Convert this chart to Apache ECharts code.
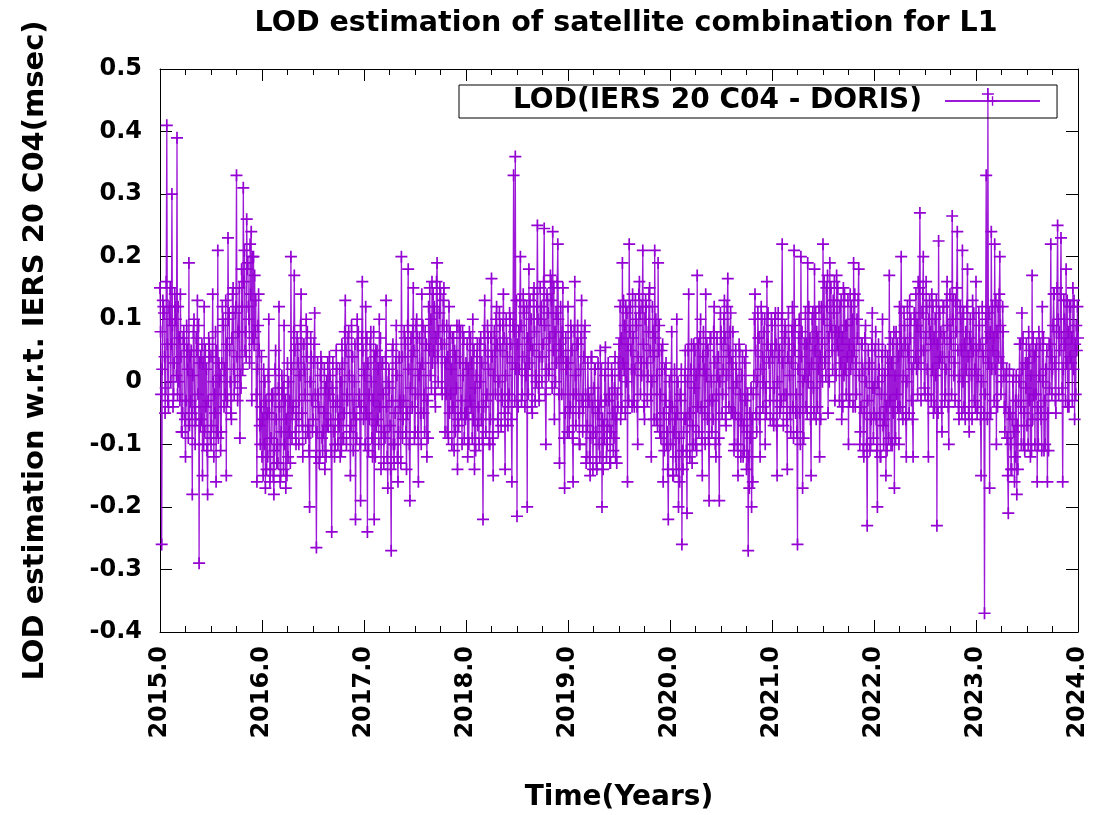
<!DOCTYPE html>
<html>
<head>
<meta charset="utf-8">
<script src="https://cdn.jsdelivr.net/npm/echarts@6/dist/echarts.min.js"></script>
<style>html,body{margin:0;padding:0;background:#fff}#c{width:1094px;height:815px}</style>
</head>
<body>
<div id="c"></div>
<script>
// LOD (IERS 20 C04 - DORIS), msec.
// Each year: 60 "spread" samples (lodYYYY) interleaved with 60 "core" (coreYYYY) and 60 "mid" (midYYYY) samples.
const startYear = 2015;
const samplesPerYear = 60;
const lod2015 = [0.15,-0.26,0.12,-0.05,0.41,-0.04,0.15,0.30,-0.02,0.12,0.39,0.0,0.14,-0.08,0.08,-0.12,0.05,0.19,-0.03,-0.18,0.10,-0.06,0.13,-0.29,0.04,-0.15,0.12,-0.04,-0.18,0.06,-0.10,0.14,-0.02,-0.16,0.21,0.0,-0.08,0.10,0.02,-0.15,0.23,0.05,-0.06,0.15,0.00,0.33,0.08,-0.09,0.18,0.31,0.05,0.26,0.12,0.22,-0.03,0.20,0.08,-0.16,0.14,-0.10];
const core2015 = [0.08,0.02,0.11,-0.01,0.06,0.12,0.00,0.09,0.03,0.10,-0.02,0.07,0.04,-0.05,0.06,-0.03,0.02,-0.07,0.05,0.01,-0.04,0.07,-0.02,0.03,-0.06,0.03,-0.08,0.02,-0.03,0.04,-0.07,0.00,-0.05,0.05,-0.09,0.01,0.03,0.09,-0.02,0.06,0.10,0.00,0.07,0.02,0.11,0.04,0.08,0.01,0.12,0.16,0.08,0.18,0.10,0.14,0.20,0.06,0.13,0.02,0.05,-0.04];
const mid2015 = [-0.02,0.13,0.04,0.16,-0.03,0.10,0.06,-0.04,0.14,0.01,0.12,-0.03,-0.08,0.07,-0.06,0.09,-0.09,0.04,-0.05,0.08,-0.10,0.05,0.09,-0.07,0.06,-0.10,0.05,-0.11,0.07,-0.09,0.04,-0.12,0.08,-0.08,0.03,-0.11,0.12,-0.04,0.13,-0.03,0.11,-0.05,0.14,-0.02,0.12,-0.03,0.15,-0.01,0.02,0.21,0.04,0.19,0.03,0.24,0.07,0.17,-0.02,0.09,-0.07,0.04];
const lod2016 = [-0.12,0.02,-0.17,-0.05,0.10,-0.14,-0.03,-0.18,0.05,-0.10,0.12,-0.15,-0.02,0.09,-0.17,0.03,-0.08,0.20,-0.05,0.17,-0.10,0.06,-0.03,0.14,-0.12,0.02,0.10,-0.08,-0.20,0.04,-0.06,0.11,-0.265,-0.02,-0.12,0.03,-0.08,-0.14,0.0,-0.07,0.01,-0.24,-0.03,-0.10,0.02,-0.06,-0.12,0.06,-0.09,0.13,-0.02,0.08,-0.15,0.04,-0.05,-0.22,0.10,-0.03,-0.19,0.16];
const core2016 = [-0.06,-0.10,-0.03,-0.12,-0.05,-0.09,-0.02,-0.11,-0.06,-0.13,-0.04,-0.08,-0.01,-0.10,-0.06,-0.12,-0.03,0.02,-0.04,0.05,-0.06,0.03,0.01,-0.05,0.06,-0.02,0.04,-0.07,0.00,-0.03,0.03,-0.02,-0.08,-0.04,0.01,-0.09,-0.05,-0.01,-0.07,-0.02,-0.06,-0.01,-0.08,-0.04,-0.03,-0.07,0.00,0.03,-0.05,0.05,-0.03,0.01,-0.07,0.04,0.00,-0.06,0.06,-0.02,-0.04,0.05];
const mid2016 = [-0.15,0.00,-0.14,0.01,-0.16,-0.02,-0.15,0.02,-0.13,-0.01,-0.16,0.01,-0.14,-0.03,-0.15,0.00,-0.13,-0.09,0.08,-0.08,0.07,-0.10,0.09,-0.07,0.06,-0.09,0.08,-0.11,0.07,-0.08,0.06,-0.12,0.03,-0.13,0.04,-0.11,0.02,-0.12,0.03,0.04,-0.11,0.03,-0.12,0.05,-0.10,0.02,-0.11,-0.09,0.08,-0.10,0.07,-0.08,0.09,-0.11,0.06,-0.09,0.08,-0.10,0.07,-0.06];
const lod2017 = [0.02,0.12,-0.24,-0.02,0.08,-0.12,-0.22,0.05,-0.06,0.10,-0.14,0.03,-0.08,0.13,-0.17,-0.01,-0.27,0.06,-0.10,0.09,-0.16,-0.03,0.20,-0.06,0.07,-0.14,0.18,-0.19,0.04,0.15,-0.08,0.10,-0.16,0.02,0.14,-0.05,0.08,-0.12,0.12,0.01,0.16,0.05,-0.04,0.19,0.08,0.14,-0.02,0.15,0.03,-0.08,0.12,-0.02,0.07,-0.11,0.04,-0.14,0.09,-0.05,0.08,-0.09];
const core2017 = [0.01,-0.05,0.03,-0.06,0.00,-0.03,0.04,-0.07,0.02,-0.04,-0.08,-0.02,-0.09,-0.04,0.00,-0.07,-0.03,-0.10,-0.05,0.01,-0.08,-0.04,0.04,-0.03,0.06,-0.05,0.02,-0.01,-0.04,0.05,-0.02,0.07,0.01,-0.05,0.03,-0.02,0.06,-0.03,0.05,0.10,0.03,0.12,0.07,0.04,0.11,0.06,0.09,0.06,-0.02,0.04,-0.05,0.02,-0.04,0.05,-0.01,-0.06,0.03,-0.03,0.01,-0.05];
const mid2017 = [-0.10,0.07,-0.11,0.06,-0.09,0.08,-0.12,0.05,-0.10,0.07,0.03,-0.13,0.04,-0.12,0.02,-0.14,0.05,-0.13,0.03,-0.12,0.04,-0.13,-0.09,0.08,-0.08,0.09,-0.10,0.07,0.08,-0.09,0.09,-0.08,0.07,-0.10,0.09,-0.08,0.06,-0.09,0.15,-0.01,0.14,-0.02,0.16,0.00,0.15,-0.01,0.13,-0.08,0.09,-0.09,0.08,-0.10,0.07,-0.08,0.09,-0.07,0.08,-0.10,0.07,-0.06];
const lod2018 = [0.03,-0.12,0.08,-0.04,0.10,-0.14,0.01,-0.07,0.06,-0.06,-0.22,0.13,-0.03,0.07,-0.10,0.165,-0.15,0.05,0.12,-0.08,0.09,-0.02,0.14,-0.14,0.06,-0.04,0.10,-0.16,0.33,0.36,-0.215,0.08,0.20,-0.02,0.12,0.02,-0.20,0.18,0.06,-0.05,0.15,0.01,0.25,-0.03,0.10,0.04,0.245,-0.10,0.13,0.02,0.16,0.24,-0.06,0.11,0.22,-0.13,0.05,0.15,-0.17,0.02];
const core2018 = [-0.05,0.02,-0.03,0.03,-0.06,-0.01,0.04,-0.04,0.00,0.03,-0.04,0.05,-0.02,0.02,-0.06,0.04,0.01,-0.02,0.06,0.00,0.05,-0.03,0.07,0.01,0.04,-0.02,0.06,0.03,0.08,0.02,0.06,0.02,0.09,0.04,0.11,0.01,0.07,0.03,0.10,0.05,0.08,0.00,0.10,0.04,0.12,0.06,0.09,0.02,0.11,0.07,0.13,0.05,0.08,0.03,0.10,0.06,-0.02,0.04,-0.05,0.03];
const mid2018 = [0.06,-0.10,0.07,-0.09,0.05,-0.11,0.06,-0.10,0.07,-0.09,0.08,-0.08,0.09,-0.10,0.07,-0.09,0.08,0.10,-0.06,0.11,-0.07,0.09,-0.05,0.10,-0.07,0.11,-0.06,0.09,-0.03,0.13,-0.04,0.13,-0.03,0.14,-0.04,0.12,-0.02,0.13,-0.04,0.14,-0.03,0.12,-0.01,0.15,0.00,0.16,-0.02,0.14,0.01,0.17,-0.01,0.15,0.00,0.16,-0.02,0.12,0.08,-0.09,0.07,-0.08];
const lod2019 = [0.12,-0.05,0.08,-0.16,0.16,-0.02,0.06,-0.10,0.13,-0.04,0.09,-0.12,-0.02,-0.15,0.04,-0.08,0.02,-0.14,-0.04,0.05,-0.20,-0.07,0.055,-0.10,-0.03,-0.13,0.01,-0.09,-0.12,-0.02,0.06,-0.06,0.19,0.02,0.12,-0.16,0.22,0.05,0.14,-0.04,0.10,-0.10,0.16,0.03,0.21,-0.06,0.12,0.01,0.15,-0.12,0.08,0.21,-0.06,0.19,-0.08,0.05,-0.16,0.02,-0.10,-0.22];
const core2019 = [0.03,-0.04,0.05,-0.02,0.01,0.06,-0.05,0.02,-0.03,0.04,-0.02,-0.07,-0.03,-0.09,-0.04,-0.01,-0.08,-0.05,-0.10,-0.03,-0.06,-0.09,-0.03,-0.07,-0.02,-0.08,-0.05,-0.01,-0.06,-0.04,0.01,0.07,0.03,0.09,0.00,0.06,0.08,0.02,0.07,0.02,0.09,0.04,0.11,0.01,0.06,0.10,0.03,0.08,0.05,0.00,0.04,0.07,0.01,0.05,-0.02,0.02,-0.05,-0.03,-0.08,-0.06];
const mid2019 = [-0.08,0.09,-0.09,0.08,-0.07,0.09,-0.10,0.07,-0.08,0.08,-0.13,0.03,-0.12,0.04,-0.14,0.02,-0.13,0.03,-0.12,0.02,-0.14,0.01,-0.12,0.03,-0.13,0.02,-0.11,0.04,-0.13,0.03,0.12,-0.04,0.13,-0.05,0.11,-0.03,0.12,-0.04,-0.03,0.13,-0.04,0.14,-0.02,0.12,-0.04,0.13,-0.03,0.14,-0.02,0.12,-0.06,0.10,-0.07,0.09,-0.09,0.06,-0.11,0.03,-0.14,0.00];
const lod2020 = [-0.04,0.08,-0.15,-0.06,0.10,-0.20,-0.02,-0.26,-0.08,0.05,-0.21,0.14,-0.05,-0.13,0.06,-0.10,0.17,-0.08,0.10,-0.15,0.02,0.14,-0.06,-0.19,0.07,-0.03,0.12,-0.12,0.01,-0.19,0.08,-0.02,0.13,-0.07,0.165,0.04,-0.05,0.08,-0.10,0.02,-0.15,0.05,-0.06,-0.12,0.03,-0.14,-0.27,-0.05,-0.20,-0.02,0.14,-0.08,0.07,-0.12,0.10,0.0,-0.10,0.16,0.04,-0.06];
const core2020 = [-0.10,-0.04,-0.08,-0.12,-0.05,-0.09,-0.03,-0.11,-0.06,-0.06,0.00,-0.05,0.02,-0.07,-0.01,0.01,-0.04,0.02,-0.04,0.04,-0.05,0.01,0.05,-0.03,0.00,-0.06,0.03,-0.02,0.04,0.00,0.06,0.02,0.07,0.01,0.05,0.08,0.03,-0.01,-0.05,0.00,-0.06,-0.02,0.01,-0.07,-0.03,-0.08,-0.12,-0.09,-0.06,0.01,0.05,0.00,0.07,0.02,0.04,0.08,-0.01,0.06,0.03,0.05];
const mid2020 = [0.01,-0.15,0.02,-0.14,0.00,-0.16,0.02,-0.14,0.01,-0.11,0.05,-0.12,0.06,-0.10,0.05,-0.11,0.06,0.07,-0.09,0.08,-0.10,0.06,-0.09,0.07,-0.08,0.08,-0.10,0.07,-0.09,0.11,-0.05,0.10,-0.06,0.12,-0.04,0.11,-0.05,-0.11,0.05,-0.10,0.06,-0.12,0.04,-0.11,0.05,-0.02,-0.17,-0.01,-0.16,0.10,-0.05,0.11,-0.06,0.12,-0.04,0.10,-0.05,0.11,-0.03,0.10];
const lod2021 = [0.09,-0.07,0.11,-0.15,0.04,-0.04,0.22,-0.02,0.08,-0.14,0.06,-0.08,0.12,0.21,-0.05,-0.26,0.10,0.20,-0.17,0.06,-0.04,0.19,0.02,-0.15,0.11,0.18,-0.06,0.07,-0.12,0.12,0.22,0.03,0.15,-0.05,0.19,0.08,0.13,-0.03,0.17,0.05,0.12,-0.06,0.15,0.02,0.09,-0.10,0.14,0.04,0.19,-0.04,0.10,0.18,-0.08,0.06,-0.12,0.09,-0.23,0.02,-0.10,0.11];
const core2021 = [0.04,-0.01,0.06,0.00,0.05,-0.03,0.03,0.07,-0.02,0.04,0.01,0.03,-0.04,0.05,-0.02,0.02,-0.05,0.04,0.00,0.01,0.06,0.00,0.07,0.03,-0.01,0.05,0.08,0.02,0.04,0.06,0.10,0.04,0.12,0.07,0.09,0.05,0.11,0.08,0.06,0.08,0.03,0.07,0.01,0.09,0.04,0.06,0.02,0.10,0.05,0.03,0.07,0.01,-0.04,0.02,-0.05,0.00,-0.03,0.03,-0.06,-0.01];
const mid2021 = [-0.06,0.10,-0.07,0.11,-0.05,0.10,-0.07,0.09,-0.06,0.11,-0.05,0.08,-0.09,0.09,-0.08,0.07,-0.10,0.08,-0.09,0.11,-0.05,0.12,-0.06,0.10,-0.05,0.11,-0.04,0.12,-0.06,0.00,0.16,0.01,0.17,0.00,0.15,0.02,0.16,0.01,0.15,-0.03,0.13,-0.04,0.14,-0.02,0.13,-0.03,0.12,-0.04,0.14,-0.02,0.13,-0.10,0.06,-0.11,0.07,-0.10,0.05,-0.11,0.06,-0.09];
const lod2022 = [-0.05,0.08,-0.20,0.02,-0.12,0.10,-0.06,-0.15,0.04,0.17,-0.10,0.06,-0.17,0.08,-0.04,0.12,0.20,-0.06,0.09,-0.12,0.05,0.13,-0.03,-0.12,0.10,0.02,0.16,0.27,0.05,0.20,-0.02,0.12,-0.12,0.08,0.14,-0.05,0.10,-0.23,0.225,0.04,-0.08,0.12,-0.02,0.16,-0.10,0.07,0.265,0.01,0.13,0.24,-0.06,0.10,0.21,-0.04,0.08,0.18,-0.08,0.06,0.13,-0.03];
const core2022 = [-0.01,-0.06,0.00,-0.05,-0.02,-0.07,0.01,-0.04,0.02,-0.03,0.03,-0.05,0.01,-0.02,0.04,-0.04,0.05,0.01,0.06,0.00,0.04,0.07,0.02,0.03,0.04,0.09,0.03,0.08,0.11,0.05,0.07,0.02,0.10,0.06,0.02,0.07,0.01,0.06,0.03,0.08,0.04,0.07,0.02,0.09,0.04,0.06,0.10,0.03,0.08,0.05,0.01,0.05,0.00,0.06,0.02,0.04,0.07,0.01,0.05,0.02];
const mid2022 = [0.05,-0.11,0.06,-0.12,0.04,-0.10,0.05,-0.11,-0.09,0.07,-0.10,0.08,-0.09,0.06,-0.10,0.07,-0.05,0.11,-0.06,0.12,-0.05,0.10,-0.06,0.11,0.14,-0.02,0.15,-0.03,0.14,-0.01,0.16,-0.02,0.13,-0.03,0.12,-0.04,0.13,-0.05,0.11,-0.04,0.12,-0.03,0.13,-0.04,0.14,-0.02,0.13,-0.03,0.15,-0.04,0.12,-0.05,0.11,-0.06,0.12,-0.05,0.10,-0.06,0.11,-0.04];
const lod2023 = [0.16,-0.04,0.09,-0.15,0.05,-0.37,0.33,0.46,-0.17,0.24,0.05,0.22,-0.10,0.12,0.20,0.0,0.08,-0.08,0.02,-0.21,-0.05,-0.14,0.01,-0.12,-0.18,-0.03,0.06,0.11,-0.10,0.03,-0.07,0.08,-0.12,0.17,-0.02,0.05,-0.16,0.08,-0.05,0.12,-0.11,0.02,-0.16,0.06,0.22,0.02,0.14,-0.05,0.25,0.08,0.23,-0.16,0.10,0.18,-0.04,0.12,0.03,0.15,-0.06,0.09];
const core2023 = [0.05,0.01,0.06,0.00,0.04,-0.02,0.07,0.03,0.08,0.02,0.07,0.02,0.08,0.04,0.09,0.03,0.01,-0.04,-0.09,-0.05,-0.10,-0.06,-0.08,-0.03,-0.07,0.00,-0.04,0.02,-0.05,-0.01,0.03,-0.03,0.01,-0.06,0.04,-0.02,-0.04,0.01,-0.06,0.00,-0.03,0.02,-0.05,-0.01,0.04,0.09,0.03,0.08,0.10,0.05,0.07,0.02,0.06,0.03,0.08,0.04,0.07,0.02,0.06,0.05];
const mid2023 = [-0.05,0.11,-0.06,0.12,-0.05,0.10,-0.06,0.11,-0.05,0.12,-0.03,0.13,-0.04,0.14,-0.02,0.12,-0.04,0.01,-0.15,0.02,-0.14,0.00,-0.16,0.01,-0.14,0.06,-0.10,0.07,-0.11,0.06,-0.10,0.05,-0.11,0.07,-0.10,0.06,-0.10,0.06,-0.11,0.07,-0.10,0.05,-0.11,0.06,-0.02,0.14,-0.03,0.15,-0.02,0.14,-0.01,0.13,-0.03,0.13,-0.04,0.12,-0.03,0.13,-0.02,0.12];
const lodEnd2024 = 0.07;
const yearTicks = [2015,2016,2017,2018,2019,2020,2021,2022,2023,2024];
const yTickLabels = ['-0.4','-0.3','-0.2','-0.1','0','0.1','0.2','0.3','0.4','0.5'];

const spread = [lod2015,lod2016,lod2017,lod2018,lod2019,lod2020,lod2021,lod2022,lod2023];
const core = [core2015,core2016,core2017,core2018,core2019,core2020,core2021,core2022,core2023];
const mid = [mid2015,mid2016,mid2017,mid2018,mid2019,mid2020,mid2021,mid2022,mid2023];
const points = [];
spread.forEach((arr, k) => {
  arr.forEach((v, i) => {
    points.push([startYear + k + i / samplesPerYear, v]);
    points.push([startYear + k + (i + 1 / 3) / samplesPerYear, core[k][i]]);
    points.push([startYear + k + (i + 2 / 3) / samplesPerYear, mid[k][i]]);
  });
});
points.push([2024, lodEnd2024]);

const FONT = 'DejaVu Sans';
const plus = 'path://M4.3,0H5.7V4.3H10V5.7H5.7V10H4.3V5.7H0V4.3H4.3Z';
const purple = '#9400d3';

const axisCommonX = {
  type: 'value', min: 2015, max: 2024, interval: 1,
  splitLine: {show: false},
  axisLine: {show: true, onZero: false, lineStyle: {color: '#000', width: 1}},
  axisTick: {show: true, inside: true, length: 12, lineStyle: {color: '#000'}},
  minorTick: {show: true, splitNumber: 4, length: 6, lineStyle: {color: '#000'}},
};
const axisCommonY = {
  type: 'value', min: -0.4, max: 0.5, interval: 0.1,
  splitLine: {show: false},
  axisLine: {show: true, onZero: false, lineStyle: {color: '#000', width: 1}},
  axisTick: {show: true, inside: true, length: 12, lineStyle: {color: '#000'}},
};

const chart = echarts.init(document.getElementById('c'), null, {renderer: 'canvas'});
chart.setOption({
  animation: false,
  backgroundColor: '#fff',
  title: {
    text: 'LOD estimation of satellite combination for L1',
    left: 621, top: 4, textAlign: 'center',
    textStyle: {fontFamily: FONT, fontWeight: 'bold', fontSize: 28.5, color: '#000'}
  },
  legend: {
    left: 459, top: 85,
    align: 'right',
    itemWidth: 95, itemHeight: 12,
    padding: [2, 16, 3, 54],
    borderColor: '#000', borderWidth: 1,
    textStyle: {fontFamily: FONT, fontWeight: 'bold', fontSize: 28, color: '#000', padding: [0, 18, 0, 0]},
    data: ['LOD(IERS 20 C04 - DORIS)']
  },
  grid: {left: 160, right: 16, top: 69, bottom: 183, containLabel: false, outerBoundsMode: 'none'},
  xAxis: [
    Object.assign({}, axisCommonX, {
      position: 'bottom',
      name: 'Time(Years)', nameLocation: 'middle', nameGap: 152,
      nameTextStyle: {fontFamily: FONT, fontWeight: 'bold', fontSize: 28, color: '#000'},
      axisLabel: {
        show: true, rotate: 90, margin: 14,
        fontFamily: FONT, fontWeight: 'bold', fontSize: 24, color: '#000',
        formatter: v => { const t = yearTicks.indexOf(Math.round(v)); return t >= 0 ? yearTicks[t].toFixed(1) : ''; }
      }
    }),
    Object.assign({}, axisCommonX, {position: 'top', axisLabel: {show: false}})
  ],
  yAxis: [
    Object.assign({}, axisCommonY, {
      position: 'left',
      name: 'LOD estimation w.r.t. IERS 20 C04(msec)', nameLocation: 'middle', nameGap: 110,
      nameTextStyle: {fontFamily: FONT, fontWeight: 'bold', fontSize: 29, color: '#000'},
      axisLabel: {
        show: true, margin: 18,
        fontFamily: FONT, fontWeight: 'bold', fontSize: 24, color: '#000',
        formatter: v => yTickLabels[Math.round((v + 0.4) * 10)]
      }
    }),
    Object.assign({}, axisCommonY, {position: 'right', axisLabel: {show: false}})
  ],
  series: [{
    name: 'LOD(IERS 20 C04 - DORIS)',
    type: 'line',
    xAxisIndex: 0, yAxisIndex: 0,
    data: points,
    symbol: plus, symbolSize: 12,
    showAllSymbol: true,
    itemStyle: {color: purple},
    lineStyle: {color: purple, width: 1.3, opacity: 0.9},
    emphasis: {disabled: true}
  }]
});
</script>
</body>
</html>
